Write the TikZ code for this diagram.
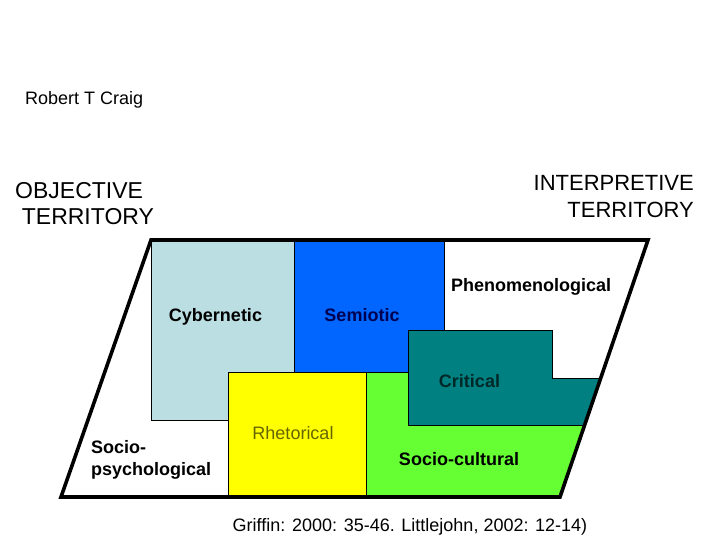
\documentclass[tikz,border=0pt]{standalone}
\usepackage{fontspec}
\setmainfont{Liberation Sans}
\definecolor{cyberfill}{RGB}{187,222,226}
\definecolor{semiofill}{RGB}{0,102,255}
\definecolor{rhetfill}{RGB}{255,255,0}
\definecolor{sociofill}{RGB}{102,255,51}
\definecolor{critfill}{RGB}{0,128,128}
\definecolor{semiotext}{RGB}{0,0,80}
\definecolor{rhettext}{RGB}{102,102,0}
\definecolor{crittext}{RGB}{0,40,40}
\begin{document}
\begin{tikzpicture}[x=1pt, y=-1pt,
		lbl/.style   = {font=\fontsize{18}{21.5}\selectfont\bfseries, inner sep=0pt},
		note/.style  = {font=\fontsize{18}{21.5}\selectfont, inner sep=0pt},
		terr/.style  = {font=\fontsize{23}{26}\selectfont, inner sep=0pt},
		region/.style = {draw=black, line width=0.7pt},
		frame/.style = {draw=black, line width=3.6pt, line join=miter}
		]
		\useasboundingbox (0,0) rectangle (720,540);
		
		%Corners
		\coordinate (tl) at (151,240);
		\coordinate (tr) at (648,240);
		\coordinate (br) at (560,497);
		\coordinate (bl) at (61,497);
		
		%Regions
		\begin{scope}
			\clip (tl) -- (tr) -- (br) -- (bl) -- cycle;
			\draw[region, fill=cyberfill] (151,240) rectangle (294.5,420);
			\draw[region, fill=semiofill] (294.5,240) rectangle (444.5,372.7);
			\draw[region, fill=rhetfill]  (228.7,372.7) rectangle (366.7,497);
			\draw[region, fill=sociofill] (366.7,372.7) -- (552.3,372.7) -- (552.3,378.7)
				-- (640,378.7) -- (640,497) -- (366.7,497) -- cycle;
			\draw[region, fill=critfill]  (408.7,330.7) -- (552.3,330.7) -- (552.3,378.7)
				-- (640,378.7) -- (640,425.3) -- (408.7,425.3) -- cycle;
		\end{scope}
		\draw[frame] (tl) -- (tr) -- (br) -- (bl) -- cycle;
		
		%Nodes
		\node[note, anchor=base west] (craig) at (25,105) {Robert T Craig};
		\node[terr, anchor=north west, align=left] (obj) at (15,182.5)
			{OBJECTIVE\\\hspace*{0.29em}TERRITORY};
		\node[terr, anchor=north east, align=right, font=\fontsize{22}{27.6}\selectfont] (interp) at (694,175)
			{INTERPRETIVE\\TERRITORY};
		
		\node[lbl, anchor=base] (cyb) at (215.5,321) {Cybernetic};
		\node[lbl, anchor=base, text=semiotext] (sem) at (362,321) {Semiotic};
		\node[lbl, anchor=base west] (phen) at (451,291) {Phenomenological};
		\node[lbl, anchor=base, text=crittext] (crit) at (469.5,387) {Critical};
		\node[note, anchor=base, text=rhettext] (rhet) at (293,439) {Rhetorical};
		\node[lbl, anchor=base] (socc) at (459,465) {Socio-cultural};
		\node[lbl, anchor=north west, align=left] (socp) at (91,440.5)
			{Socio-\\psychological};
		
		\node[note, anchor=base] (src) at (410,531.5) {Griffin: 2000: 35-46. Littlejohn, 2002: 12-14)};
		
	\end{tikzpicture}
\end{document}
